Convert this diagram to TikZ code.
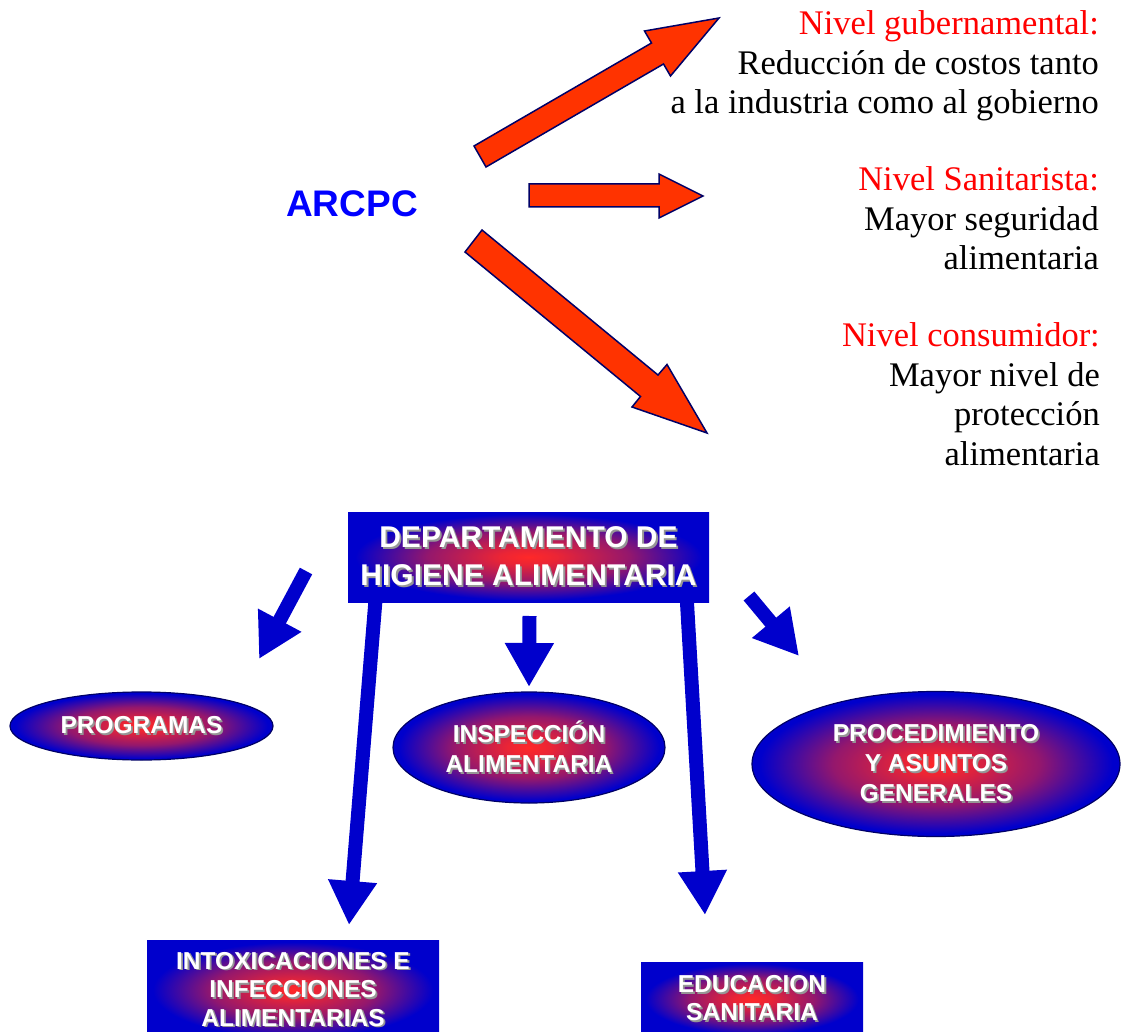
\documentclass[tikz,border=0pt]{standalone}
\usepackage{fontspec}
\setmainfont{Liberation Serif}
\setsansfont{Liberation Sans}
\usetikzlibrary{shapes.geometric,arrows.meta}

\definecolor{deepblue}{RGB}{0,0,204}
\definecolor{hotred}{RGB}{255,40,40}
\definecolor{arrowred}{RGB}{255,51,0}
\definecolor{navyline}{RGB}{0,0,102}
\definecolor{titleblue}{RGB}{0,0,255}
\definecolor{shadowgray}{RGB}{150,150,150}

\pgfdeclareradialshading{glow}{\pgfpoint{0bp}{0bp}}{color(0bp)=(hotred); color(4bp)=(hotred!92!deepblue); color(14bp)=(hotred!58!deepblue); color(24bp)=(deepblue); color(50bp)=(deepblue)}

\newcommand{\shtext}[1]{\makebox[0pt][l]{\hspace{1.8pt}\raisebox{-1.8pt}{\textcolor{shadowgray}{#1}}}#1}

\tikzset{
  glowbox/.style={rectangle, shading=glow, text=white, align=center, inner sep=0pt},
  glowoval/.style={ellipse, shading=glow, draw=navyline, line width=1.2pt, text=white, align=center, inner sep=0pt},
  redarrow/.style={fill=arrowred, draw=navyline, line width=1.5pt, line join=miter},
  bluearrow/.style={draw=deepblue, line width=14pt, -{Triangle[length=44pt,width=46pt]}},
  leveltext/.style={anchor=base east, align=right, inner sep=0pt, font=\fontsize{34.5}{39.5}\selectfont}
}

\begin{document}
\begin{tikzpicture}[x=1pt,y=-1pt]
\clip (0,0) rectangle (1127,1032);
% upper part
\node[text=titleblue, font=\sffamily\bfseries\fontsize{37}{44}\selectfont] (arcpc) at (352,204) {ARCPC};
\filldraw[redarrow] (474,146) -- (651.5,43) -- (644.5,31) -- (719,18) -- (670.5,76) -- (663.5,64) -- (486,167) -- cycle;
\filldraw[redarrow] (529,184) -- (659,184) -- (659,174) -- (703,196) -- (659,218) -- (659,207) -- (529,207) -- cycle;
\filldraw[redarrow] (482,230) -- (658,375) -- (667,364.5) -- (707,433) -- (632,407) -- (640.5,396.5) -- (465,252) -- cycle;
% base anchor = last line
\node[leveltext] (gob) at (1099,114) {\textcolor{red}{Nivel gubernamental:}\\Reducción de costos tanto\\a la industria como al gobierno};
\node[leveltext] (san) at (1099,270) {\textcolor{red}{Nivel Sanitarista:}\\Mayor seguridad\\alimentaria};
\node[leveltext] (cons) at (1100,465) {\textcolor{red}{Nivel consumidor:}\\Mayor nivel de\\protección\\alimentaria};
% lower part
\node[glowbox, minimum width=361pt, minimum height=90pt, font=\sffamily\bfseries\fontsize{30}{38}\selectfont] (dep) at (528.5,557) {\shtext{DEPARTAMENTO DE}\\\shtext{HIGIENE ALIMENTARIA}};
\node[glowoval, minimum width=263pt, minimum height=68pt, font=\sffamily\bfseries\fontsize{24.5}{30}\selectfont] (prog) at (141.5,726) {\shtext{PROGRAMAS}};
\node[glowoval, minimum width=272pt, minimum height=111pt, font=\sffamily\bfseries\fontsize{24.5}{30}\selectfont] (insp) at (529,747.5) {\shtext{INSPECCIÓN}\\\shtext{ALIMENTARIA}};
\node[glowoval, minimum width=368pt, minimum height=145pt, font=\sffamily\bfseries\fontsize{24.5}{30}\selectfont] (proc) at (936,764) {\shtext{PROCEDIMIENTO}\\\shtext{Y ASUNTOS}\\\shtext{GENERALES}};
\node[glowbox, minimum width=292pt, minimum height=100pt, font=\sffamily\bfseries\fontsize{24.5}{28.5}\selectfont] (intox) at (293,990) {\shtext{INTOXICACIONES E}\\\shtext{INFECCIONES}\\\shtext{ALIMENTARIAS}};
\node[glowbox, minimum width=222pt, minimum height=74pt, font=\sffamily\bfseries\fontsize{24.5}{28}\selectfont] (educ) at (752,999) {\shtext{EDUCACION}\\\shtext{SANITARIA}};
% blue arrows
\coordinate (progTail) at (306,571);
\coordinate (progTip) at (259,659);
\coordinate (inspTail) at (529.5,616);
\coordinate (inspTip) at (529,687);
\coordinate (procTail) at (749,596);
\coordinate (procTip) at (799,656);
\coordinate (intoxTail) at (376,594);
\coordinate (intoxTip) at (349,925);
\coordinate (educTail) at (686.5,594);
\coordinate (educTip) at (705,915);
\draw[bluearrow] (progTail) -- (progTip);
\draw[bluearrow] (inspTail) -- (inspTip);
\draw[bluearrow] (procTail) -- (procTip);
\draw[bluearrow] (intoxTail) -- (intoxTip);
\draw[bluearrow] (educTail) -- (educTip);
\end{tikzpicture}
\end{document}
